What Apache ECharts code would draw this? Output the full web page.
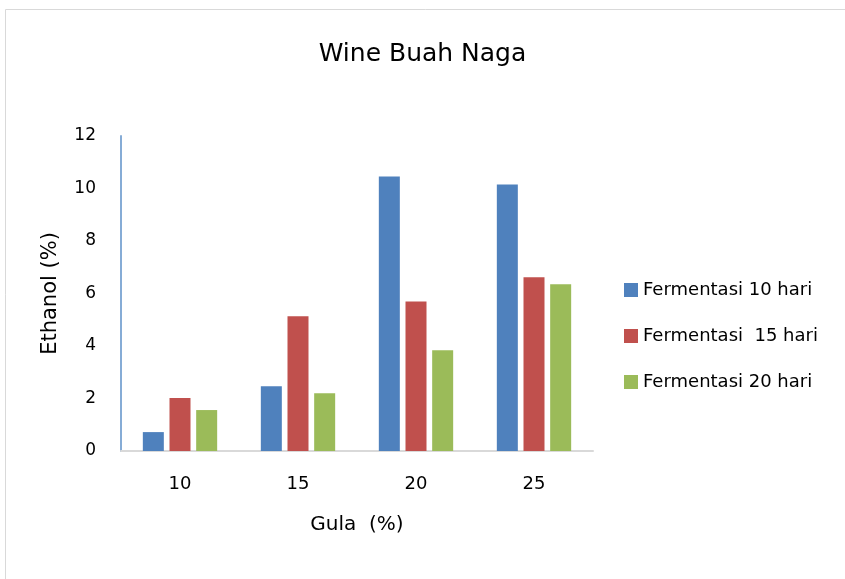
<!DOCTYPE html>
<html>
<head>
<meta charset="utf-8">
<script src="https://cdn.jsdelivr.net/npm/echarts@6/dist/echarts.min.js"></script>
<style>html,body{margin:0;padding:0;background:#fff}#c{width:845px;height:579px}</style>
</head>
<body>
<div id="c"></div>
<script>
const categories = ['10', '15', '20', '25'];
const seriesNames = ['Fermentasi 10 hari', 'Fermentasi  15 hari', 'Fermentasi 20 hari'];
const ferm10 = [0.72, 2.47, 10.46, 10.15];
const ferm15 = [2.02, 5.13, 5.70, 6.62];
const ferm20 = [1.56, 2.20, 3.84, 6.35];
const yTicks = [0, 2, 4, 6, 8, 10, 12];

const colors = ['#4f81bd', '#c0504d', '#9bbb59'];
const font = 'DejaVu Sans';
const chart = echarts.init(document.getElementById('c'), null, {renderer: 'canvas'});
const mk = (name, data, i) => ({
  name, type: 'bar', data, barWidth: 21, barGap: '27%',
  itemStyle: {color: colors[i]}
});
chart.setOption({
  animation: false,
  textStyle: {fontFamily: font},
  graphic: [{
    type: 'rect', shape: {x: 5.5, y: 9.5, width: 850, height: 580},
    style: {fill: 'none', stroke: '#d9d9d9', lineWidth: 1}, silent: true
  }],
  title: {
    text: 'Wine Buah Naga', left: 'center', top: 37, itemGap: 0,
    textStyle: {fontFamily: font, fontSize: 25, fontWeight: 'normal', color: '#000'}
  },
  legend: {
    orient: 'vertical', left: 619, top: 276, itemWidth: 14, itemHeight: 14, itemGap: 28,
    icon: 'rect',
    textStyle: {fontFamily: font, fontSize: 18, color: '#000'},
    data: seriesNames
  },
  grid: {left: 121, right: 252, top: 136, bottom: 128},
  xAxis: {
    type: 'category', data: categories,
    name: 'Gula  (%)', nameLocation: 'middle', nameGap: 64,
    nameTextStyle: {fontFamily: font, fontSize: 20, color: '#000'},
    axisLine: {lineStyle: {color: '#d9d9d9', width: 2}},
    axisTick: {show: false},
    axisLabel: {fontFamily: font, fontSize: 18, color: '#000', margin: 24}
  },
  yAxis: {
    type: 'value', min: yTicks[0], max: yTicks[yTicks.length - 1], interval: 2,
    name: 'Ethanol (%)', nameLocation: 'middle', nameGap: 60,
    nameTextStyle: {fontFamily: font, fontSize: 21, color: '#000'},
    axisLine: {show: true, lineStyle: {color: '#86acd6', width: 2}},
    axisTick: {show: false},
    splitLine: {show: false},
    axisLabel: {fontFamily: font, fontSize: 17, color: '#000', margin: 25}
  },
  series: [mk(seriesNames[0], ferm10, 0), mk(seriesNames[1], ferm15, 1), mk(seriesNames[2], ferm20, 2)]
});
</script>
</body>
</html>
